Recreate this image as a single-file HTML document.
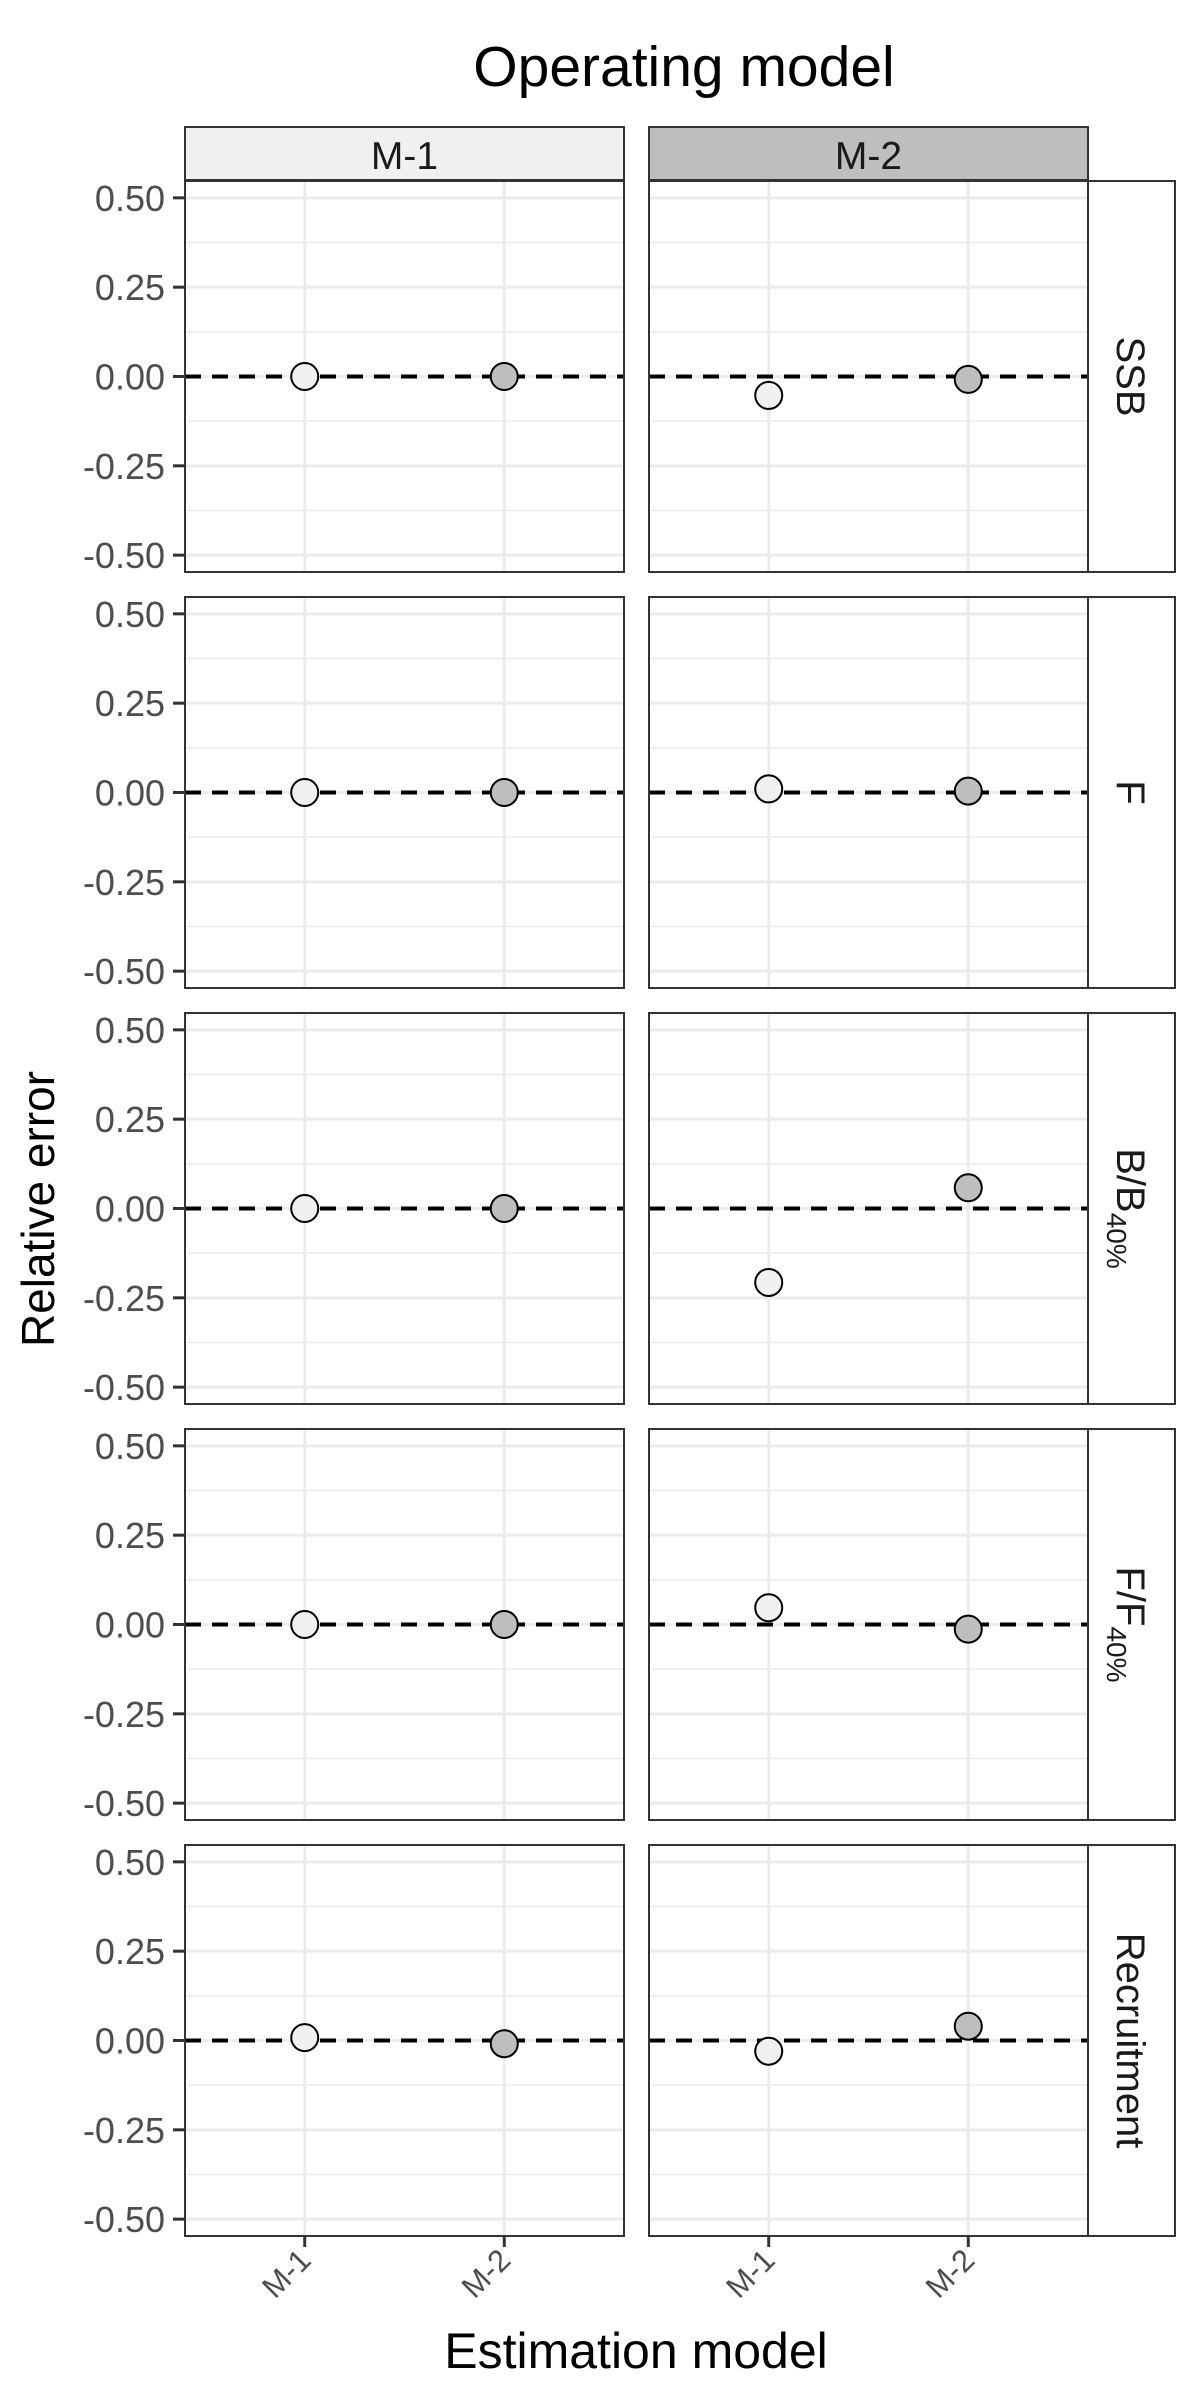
<!DOCTYPE html>
<html><head><meta charset="utf-8"><style>
html,body{margin:0;padding:0;background:#fff;}
svg{display:block;font-family:"Liberation Sans",sans-serif;}
</style></head><body>
<svg id="chart" width="1200" height="2400" viewBox="0 0 1200 2400">
<text x="684" y="86" font-size="57" text-anchor="middle" fill="#000">Operating model</text>
<g id="g"></g>
<text x="636" y="2368" font-size="50" text-anchor="middle" fill="#000">Estimation model</text>
<text transform="translate(54,1209) rotate(-90)" font-size="46" text-anchor="middle" fill="#000">Relative error</text>
</svg>
<script>
const operatingModels = ["M-1", "M-2"];
const estimationModels = ["M-1", "M-2"];
const quantities = ["SSB", "F", "B/B40%", "F/F40%", "Recruitment"];
const valuesOM1 = [[0, 0], [0, 0], [0, 0], [0, 0], [0.008, -0.009]];
const valuesOM2 = [[-0.053, -0.008], [0.01, 0.004], [-0.207, 0.058], [0.047, -0.013], [-0.03, 0.04]];
const yTicks = [0.5, 0.25, 0, -0.25, -0.5];
const yTickLabels = ["0.50", "0.25", "0.00", "-0.25", "-0.50"];
const minorTicks = [0.375, 0.125, -0.125, -0.375];

const NS = "http://www.w3.org/2000/svg";
const g = document.getElementById("g");
function mk(tag, attrs, parent) {
  const e = document.createElementNS(NS, tag);
  for (const k in attrs) e.setAttribute(k, attrs[k]);
  (parent || g).appendChild(e);
  return e;
}
const colX = [185, 649], colW = 439;
const stripX = 1088, stripW = 87;
const rowTop = 181, rowH = 391, rowStep = 416;
const fills = ["#f0f0f0", "#bebebe"];
function yScale(v, r) { const top = rowTop + r * rowStep; return top + rowH / 2 - v * 357.3; }
function xScale(i, c) { return colX[c] + colW * (0.6 + i) / 2.2; }

operatingModels.forEach((om, c) => {
  const s = mk("rect", {x: colX[c], y: 127, width: colW, height: 53, fill: fills[c], stroke: "#333", "stroke-width": 2});
  
  
  const t = mk("text", {x: colX[c] + colW / 2, y: 169, "font-size": 39, "text-anchor": "middle", fill: "#1a1a1a"});
  t.textContent = om;
  
  
});

quantities.forEach((q, r) => {
  const top = rowTop + r * rowStep;
  operatingModels.forEach((om, c) => {
    const x0 = colX[c];
    const bg = mk("rect", {x: x0, y: top, width: colW, height: rowH, fill: "#fff"});
    
    
    minorTicks.forEach(v => {
      const l = mk("line", {x1: x0, x2: x0 + colW, y1: yScale(v, r), y2: yScale(v, r), stroke: "#ebebeb", "stroke-width": 1.5});
      
      
    });
    yTicks.forEach(v => {
      const l = mk("line", {x1: x0, x2: x0 + colW, y1: yScale(v, r), y2: yScale(v, r), stroke: "#ebebeb", "stroke-width": 3});
      
      
    });
    estimationModels.forEach((em, i) => {
      const l = mk("line", {x1: xScale(i, c), x2: xScale(i, c), y1: top, y2: top + rowH, stroke: "#ebebeb", "stroke-width": 3});
      
      
    });
    const z = mk("line", {x1: x0, x2: x0 + colW, y1: yScale(0, r), y2: yScale(0, r), stroke: "#000", "stroke-width": 4, "stroke-dasharray": "16 11"});
    
    
    const vals = c === 0 ? valuesOM1 : valuesOM2;
    estimationModels.forEach((em, i) => {
      const p = mk("circle", {cx: xScale(i, c), cy: yScale(vals[r][i], r), r: 13.5, fill: fills[i], stroke: "#000", "stroke-width": 2});
      
      
    });
    const b = mk("rect", {x: x0, y: top, width: colW, height: rowH, fill: "none", stroke: "#333", "stroke-width": 2});
    
    
  });
  yTicks.forEach((v, k) => {
    const tk = mk("line", {x1: 173, x2: 185, y1: yScale(v, r), y2: yScale(v, r), stroke: "#333", "stroke-width": 3});
    
    
    const t = mk("text", {x: 165, y: yScale(v, r) + 13, "font-size": 36, "text-anchor": "end", fill: "#4d4d4d"});
    t.textContent = yTickLabels[k];
    
    
  });
  const sr = mk("rect", {x: stripX, y: top, width: stripW, height: rowH, fill: "#fff", stroke: "#333", "stroke-width": 2});
  
  
  const cy = top + rowH / 2;
  const t = mk("text", {transform: "translate(1117," + cy + ") rotate(90)", "font-size": 40, "text-anchor": "middle", fill: "#1a1a1a"});
  
  
  if (q.indexOf("40%") > 0) {
    const base = q.replace("40%", "");
    const ts1 = mk("tspan", {}, t); ts1.textContent = base;
    const ts2 = mk("tspan", {"font-size": 28, dy: 10}, t); ts2.textContent = "40%";
  } else {
    t.textContent = q;
  }
});

operatingModels.forEach((om, c) => {
  estimationModels.forEach((em, i) => {
    const x = xScale(i, c);
    const tk = mk("line", {x1: x, x2: x, y1: 2235, y2: 2247, stroke: "#333", "stroke-width": 3});
    
    
    const t = mk("text", {transform: "translate(" + (x + 8) + ",2262) rotate(-45)", "font-size": 31, "text-anchor": "end", fill: "#4d4d4d"});
    t.textContent = em;
    
    
  });
});
</script>
</body></html>
